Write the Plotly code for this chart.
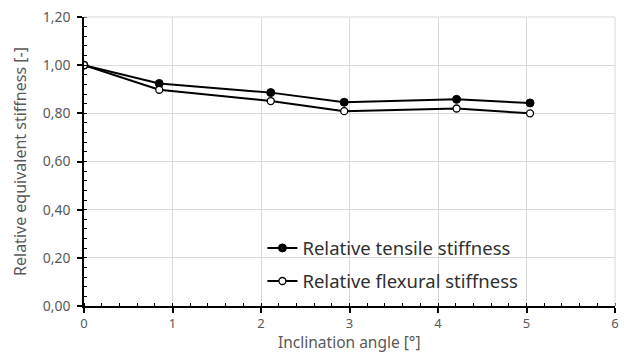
import plotly.graph_objects as go

angle = [0, 0.85, 2.11, 2.94, 4.21, 5.04]
tensile = [1.0, 0.924, 0.886, 0.846, 0.858, 0.843]
flexural = [1.0, 0.898, 0.851, 0.809, 0.820, 0.800]

fig = go.Figure()
fig.add_trace(go.Scatter(x=angle, y=tensile, mode="lines+markers", name="Relative tensile stiffness",
                         legendgroup="a",
                         line=dict(color="black", width=2),
                         marker=dict(symbol="circle", size=8, color="black", line=dict(color="black", width=1))))
fig.add_trace(go.Scatter(x=angle, y=flexural, mode="lines+markers", name="Relative flexural stiffness",
                         legendgroup="b",
                         line=dict(color="black", width=2),
                         marker=dict(symbol="circle", size=7, color="white", line=dict(color="black", width=1.3))))

font = "Noto Sans, Open Sans, sans-serif"
fig.update_layout(
    width=626, height=354,
    margin=dict(l=84, r=11, t=17, b=48),
    plot_bgcolor="white", paper_bgcolor="white",
    separators=",.",
    font=dict(family=font, color="#595959", size=14),
    showlegend=True,
    legend=dict(x=0.336, y=0.265, xanchor="left", yanchor="top", bgcolor="rgba(0,0,0,0)",
                font=dict(size=18.5, color="#303030", family=font), tracegroupgap=6, itemwidth=30),
    xaxis=dict(range=[0, 6], dtick=1, tick0=0, showgrid=True, gridcolor="#d9d9d9", gridwidth=1,
               showline=True, linecolor="black", linewidth=1.5, ticks="outside", ticklen=5,
               tickcolor="black", tickwidth=1.5, zeroline=False, ticklabelstandoff=0, automargin=False,
               minor=dict(dtick=0.2, ticks="inside", ticklen=3, tickcolor="black", tickwidth=1, showgrid=False),
               tickfont=dict(size=13, color="#595959")),
    yaxis=dict(range=[0, 1.2], dtick=0.2, tickformat=".2f", showgrid=True, gridcolor="#d9d9d9", gridwidth=1,
               showline=True, linecolor="black", linewidth=1.5, ticks="outside", ticklen=5,
               tickcolor="black", tickwidth=1.5, zeroline=False, ticklabelstandoff=4, automargin=False,
               minor=dict(dtick=0.04, ticks="inside", ticklen=3, tickcolor="black", tickwidth=1, showgrid=False),
               title=dict(text="Relative equivalent stiffness [-]", font=dict(size=16, color="#595959"), standoff=12),
               tickfont=dict(size=14, color="#595959")),
)
fig.add_annotation(text="Inclination angle [°]", xref="paper", yref="paper", x=0.5, y=-0.166,
                   xanchor="center", yanchor="bottom", showarrow=False, borderpad=0,
                   font=dict(size=15.5, color="#595959", family=font))
fig.add_shape(type="line", xref="paper", yref="paper", x0=1, x1=1, y0=0, y1=1, line=dict(color="#d9d9d9", width=1))
fig.add_shape(type="line", xref="paper", yref="paper", x0=0, x1=1, y0=1, y1=1, line=dict(color="#d9d9d9", width=1))

fig.write_html("out.html")
